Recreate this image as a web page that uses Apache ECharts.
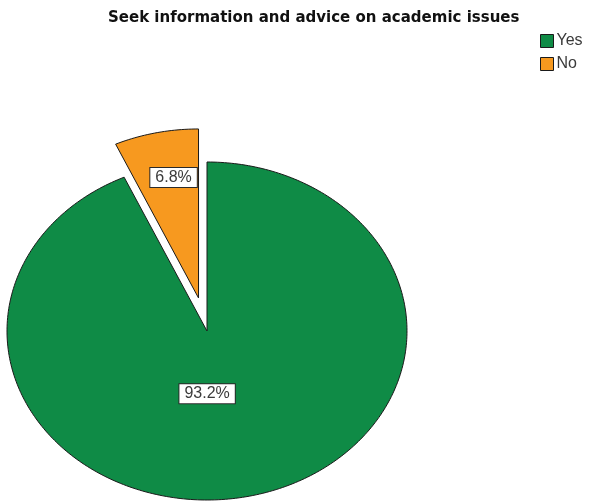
<!DOCTYPE html>
<html>
<head>
<meta charset="utf-8">
<script src="https://cdn.jsdelivr.net/npm/echarts@6/dist/echarts.min.js"></script>
<style>
  html, body { margin: 0; padding: 0; background: #fff; }
  #chart { width: 596px; height: 502px; }
</style>
</head>
<body>
<div id="chart"></div>
<script>
// Answers to "Seek information and advice on academic issues"
const categories = ['Yes', 'No'];
const percentages = [93.2, 6.8];
const sliceColors = ['#0f8b46', '#f7991f'];

// Pie drawn as an ellipse; slices run clockwise from 12 o'clock.
const pieLayout = { cx: 207, cy: 331, rx: 200, ry: 169 };
const explode = [0, 0.2];          // radial pull-out per slice (fraction of radius)
const labelRadius = [0.38, 0.73];  // label distance from centre (fraction of radius)
const labelNudge = [[-16, 0], [6, 0]];

const total = percentages.reduce((a, b) => a + b, 0);
const bounds = [];
let acc = 0;
percentages.forEach(v => { bounds.push([acc / total, (acc + v) / total]); acc += v; });

function pt(cx, cy, t, f) {
  const a = t * Math.PI * 2;
  return [cx + pieLayout.rx * f * Math.sin(a), cy - pieLayout.ry * f * Math.cos(a)];
}

function makeSeries(i) {
  return {
    type: 'custom',
    name: categories[i],
    coordinateSystem: 'none',
    itemStyle: { color: sliceColors[i], borderColor: '#1a1a1a', borderWidth: 1 },
    data: [[bounds[i][0], bounds[i][1], percentages[i]]],
    renderItem: function (params, api) {
      const t0 = api.value(0), t1 = api.value(1), val = api.value(2);
      const mid = (t0 + t1) / 2;
      const off = pt(0, 0, mid, explode[i]);
      const cx = pieLayout.cx + off[0], cy = pieLayout.cy + off[1];
      const steps = Math.max(8, Math.ceil((t1 - t0) * 360));
      const points = [[cx, cy]];
      for (let k = 0; k <= steps; k++) {
        points.push(pt(cx, cy, t0 + (t1 - t0) * k / steps, 1));
      }
      const lp = pt(cx, cy, mid, labelRadius[i]);
      return {
        type: 'group',
        children: [
          {
            type: 'polygon',
            shape: { points: points },
            style: { fill: sliceColors[i], stroke: '#1a1a1a', lineWidth: 1 }
          },
          {
            type: 'text',
            x: lp[0] + labelNudge[i][0],
            y: lp[1] + labelNudge[i][1],
            style: {
              text: val.toFixed(1) + '%',
              fill: '#3a3a3a',
              font: '16px "Liberation Sans", Arial, sans-serif',
              align: 'center',
              verticalAlign: 'middle',
              backgroundColor: '#ffffff',
              borderColor: '#2a2a2a',
              borderWidth: 1,
              padding: [2, 5, 1, 5]
            }
          }
        ]
      };
    }
  };
}

const chart = echarts.init(document.getElementById('chart'), null, { renderer: 'canvas' });
chart.setOption({
  animation: false,
  backgroundColor: '#ffffff',
  title: {
    text: 'Seek information and advice on academic issues',
    left: 103,
    top: 6,
    textStyle: {
      fontFamily: '"DejaVu Sans", Verdana, sans-serif',
      fontWeight: 'bold',
      fontSize: 15,
      color: '#111111'
    }
  },
  legend: {
    orient: 'vertical',
    left: 540,
    top: 33,
    padding: 0,
    itemWidth: 13,
    itemHeight: 13,
    itemGap: 7,
    icon: 'rect',
    data: categories,
    itemStyle: { borderColor: '#1a1a1a', borderWidth: 1 },
    textStyle: {
      fontFamily: '"Liberation Sans", Arial, sans-serif',
      fontSize: 16,
      color: '#3a3a3a',
      padding: [0, 0, 0, -2]
    }
  },
  series: categories.map((c, i) => makeSeries(i))
});
</script>
</body>
</html>
